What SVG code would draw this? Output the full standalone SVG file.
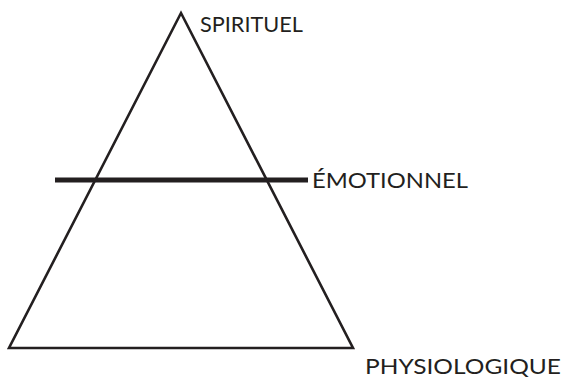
<svg xmlns="http://www.w3.org/2000/svg" width="563" height="378" viewBox="0 0 563 378">
<style>
.lbl{font-family:Lato,"Liberation Sans",sans-serif;font-size:22px;font-weight:400;fill:#231f20}
.tri{fill:none;stroke:#231f20;stroke-width:2.6;stroke-linejoin:miter}
.bar{stroke:#231f20;stroke-width:5}
</style>
<rect width="563" height="378" fill="#fff"/>
<g id="pyramid">
<polygon class="tri" points="181,13 353,348 9,348"/>
</g>
<g id="connectors">
<line class="bar" x1="55" y1="180" x2="308" y2="180"/>
</g>
<g id="spirituel"><text class="lbl" x="200" y="32" textLength="103" lengthAdjust="spacingAndGlyphs">SPIRITUEL</text></g>
<g id="emotionnel"><text class="lbl" x="312" y="188" textLength="156" lengthAdjust="spacingAndGlyphs">ÉMOTIONNEL</text></g>
<g id="physiologique"><text class="lbl" x="365" y="374" textLength="196" lengthAdjust="spacingAndGlyphs">PHYSIOLOGIQUE</text></g>
</svg>
